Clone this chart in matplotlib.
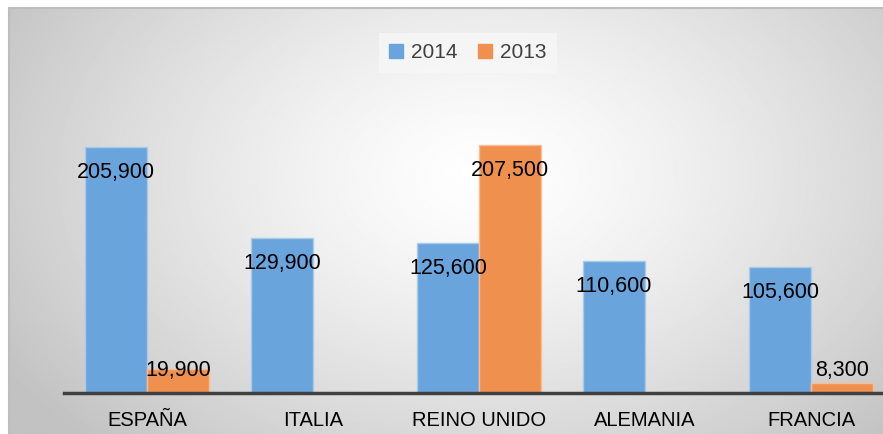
import numpy as np
import matplotlib.pyplot as plt

paises = ["ESPAÑA", "ITALIA", "REINO UNIDO", "ALEMANIA", "FRANCIA"]
valores_2014 = [205900, 129900, 125600, 110600, 105600]
valores_2013 = [19900, None, 207500, None, 8300]

azul = "#6aa4dc"
naranja = "#f0904f"
W, H = 883, 434

fig = plt.figure(figsize=(W / 100, H / 100), dpi=100)

# fondo con degradado radial
bg = fig.add_axes([9 / W, 0, 1 - 9 / W, 1 - 8 / H])
yy, xx = np.mgrid[0:H, 0:W]
r = np.sqrt(((xx - 480) / 620.0) ** 2 + ((yy - 170) / 420.0) ** 2)
g = np.clip(1 - 0.27 * r ** 1.3, 0.76, 1.0)
bg.imshow(g, cmap="gray", vmin=0, vmax=1, aspect="auto", interpolation="bilinear")
bg.set_xticks([])
bg.set_yticks([])
for s in ["right", "bottom"]:
    bg.spines[s].set_visible(False)
for s in ["top", "left"]:
    bg.spines[s].set_color("#bdbdbd")
    bg.spines[s].set_linewidth(1.5)

ax = fig.add_axes([64 / W, (H - 393) / H, 830 / W, 298.7 / H])
ax.patch.set_alpha(0)
x = np.arange(len(paises))
ancho = 0.373

def etiqueta(xc, v):
    yc = max(v - 21500, 19000)
    ax.text(xc, yc, f"{v:,}", ha="center", va="center", fontsize=15.5,
            family="Liberation Sans", color="black")

for i, v in enumerate(valores_2014):
    ax.bar(x[i] - ancho / 2, v, ancho, color=azul, edgecolor="#a9cbeb", linewidth=1)
    etiqueta(x[i] - ancho / 2, v)
for i, v in enumerate(valores_2013):
    if v is None:
        continue
    ax.bar(x[i] + ancho / 2, v, ancho, color=naranja, edgecolor="#f6bf98", linewidth=1)
    etiqueta(x[i] + ancho / 2, v)

ax.set_xlim(-0.5, len(paises) - 0.5)
ax.set_ylim(0, 250000)
ax.set_yticks([])
ax.set_xticks(x)
ax.set_xticklabels(paises, fontsize=14.5, family="Liberation Sans", color="black")
ax.tick_params(axis="x", length=0, pad=13)
for s in ["top", "right", "left"]:
    ax.spines[s].set_visible(False)
ax.spines["bottom"].set_color("#404040")
ax.spines["bottom"].set_linewidth(2.5)

# leyenda
h1 = plt.Rectangle((0, 0), 1, 1, color=azul)
h2 = plt.Rectangle((0, 0), 1, 1, color=naranja)
leg = fig.legend([h1, h2], ["2014", "2013"], loc="center", bbox_to_anchor=(468 / W, 1 - 53 / H),
                 ncol=2, frameon=True, prop={"family": "Liberation Sans", "size": 15},
                 handlelength=0.65, handleheight=0.65, handletextpad=0.4, columnspacing=1.0,
                 borderpad=0.5, fancybox=False)
leg.get_frame().set_facecolor("#f7f7f7")
leg.get_frame().set_edgecolor("none")
for t in leg.get_texts():
    t.set_color("#404040")

fig.savefig("out.png", dpi=100)
